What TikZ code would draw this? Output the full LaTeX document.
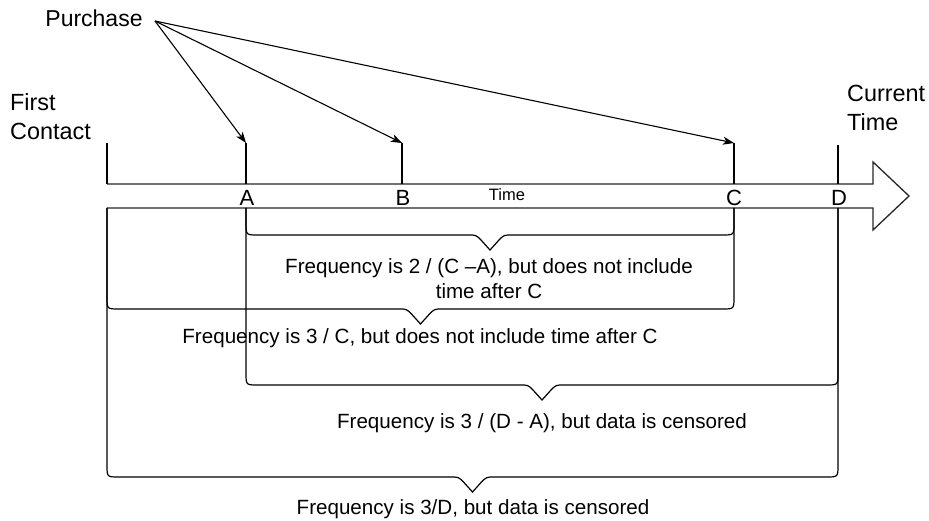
\documentclass[tikz,border=0pt]{standalone}
\usepackage{fontspec}
\setmainfont{Liberation Sans}
\usetikzlibrary{arrows.meta,calc}

\begin{document}
\begin{tikzpicture}[
    x=1pt, y=-1pt,
    font=\fontsize{20.6}{25}\selectfont,
    % Estilos de las líneas
    band/.style={draw=black!85, line width=1.3pt, line join=miter},
    tick/.style={line width=2.2pt},
    brace/.style={line width=1.2pt},
    pointer/.style={line width=1.1pt, -{Stealth[length=11pt, width=8pt, inset=3pt]}},
    % Estilos de los textos
    letter/.style={inner sep=0pt, font=\fontsize{22}{26}\selectfont},
    note/.style={align=center, inner sep=0pt},
    side/.style={align=left, inner sep=0pt, anchor=west, font=\fontsize{23.4}{29}\selectfont}
]

\useasboundingbox (0,0) rectangle (929,521);

% ==========================================
% MACRO PARA LAS LLAVES
% ==========================================
% #1 extremo izquierdo, #2 extremo derecho, #3 profundidad bajo la banda
\newcommand{\drawbracket}[3]{
    \path (#1) ++(0,#3) coordinate (bl)
          (#2) ++(0,#3) coordinate (br)
          ($(bl)!0.5!(br)$) coordinate (bm);
    \draw[brace] (#1) -- ($(bl)+(0,-12)$) .. controls (bl) .. ($(bl)+(12,0)$)
        -- ($(bm)+(-22,0)$) .. controls ($(bm)+(-14,0)$) .. ($(bm)+(-9,5)$)
        -- ($(bm)+(0,15)$) -- ($(bm)+(9,5)$)
        .. controls ($(bm)+(14,0)$) .. ($(bm)+(22,0)$)
        -- ($(br)+(-12,0)$) .. controls (br) .. ($(br)+(0,-12)$) -- (#2);
}

% ==========================================
% EJE DEL TIEMPO
% ==========================================
\draw[band] (107,184) -- (873,184) -- (873,162) -- (909,196)
    -- (873,230) -- (873,208) -- (107,208);
\node[inner sep=0pt, font=\fontsize{16.5}{19}\selectfont] (time) at (507,195) {Time};

% Marcas: arriba, banda, abajo
\coordinate (fcT) at (107,143); \coordinate (fcM) at (107,184); \coordinate (fcB) at (107,208);
\coordinate (aT) at (246,143);  \coordinate (aM) at (246,184);  \coordinate (aB) at (246,208);
\coordinate (bT) at (402,143);  \coordinate (bM) at (402,184);
\coordinate (cT) at (734,143);  \coordinate (cM) at (734,184);  \coordinate (cB) at (734,208);
\coordinate (dT) at (838,145);  \coordinate (dM) at (838,184);  \coordinate (dB) at (838,208);

\draw[tick] (fcT) -- (fcM);
\draw[tick] (aT) -- (aM);
\draw[tick] (bT) -- (bM);
\draw[tick] (cT) -- (cM);
\draw[tick] (dT) -- (dM);

\node[letter] (lA) at (247,198) {A};
\node[letter] (lB) at (403,198) {B};
\node[letter] (lC) at (734,198) {C};
\node[letter] (lD) at (839,198) {D};

% ==========================================
% COMPRAS
% ==========================================
\node[inner sep=0pt, font=\fontsize{23}{27}\selectfont] (purchase) at (94,18) {Purchase};
\coordinate (pur) at (155,21);
\draw[pointer] (pur) -- (aT);
\draw[pointer] (pur) -- (bT);
\draw[pointer] (pur) -- (cT);

\node[side] (first) at (10,117) {First\\Contact};
\node[side] (current) at (847,108) {Current\\Time};

% ==========================================
% LLAVES Y FRECUENCIAS
% ==========================================
\drawbracket{aB}{cB}{27}
\node[note, text depth=0pt] (f1) at (489,279) {Frequency is 2 / (C –A), but does not include\\time after C};

\drawbracket{fcB}{cB}{101}
\node[note] (f2) at (420,338) {Frequency is 3 / C, but does not include time after C};

\drawbracket{aB}{dB}{177}
\node[note] (f3) at (542,423) {Frequency is 3 / (D - A), but data is censored};

\drawbracket{fcB}{dB}{269}
\node[note] (f4) at (473,509) {Frequency is 3/D, but data is censored};

\end{tikzpicture}
\end{document}
